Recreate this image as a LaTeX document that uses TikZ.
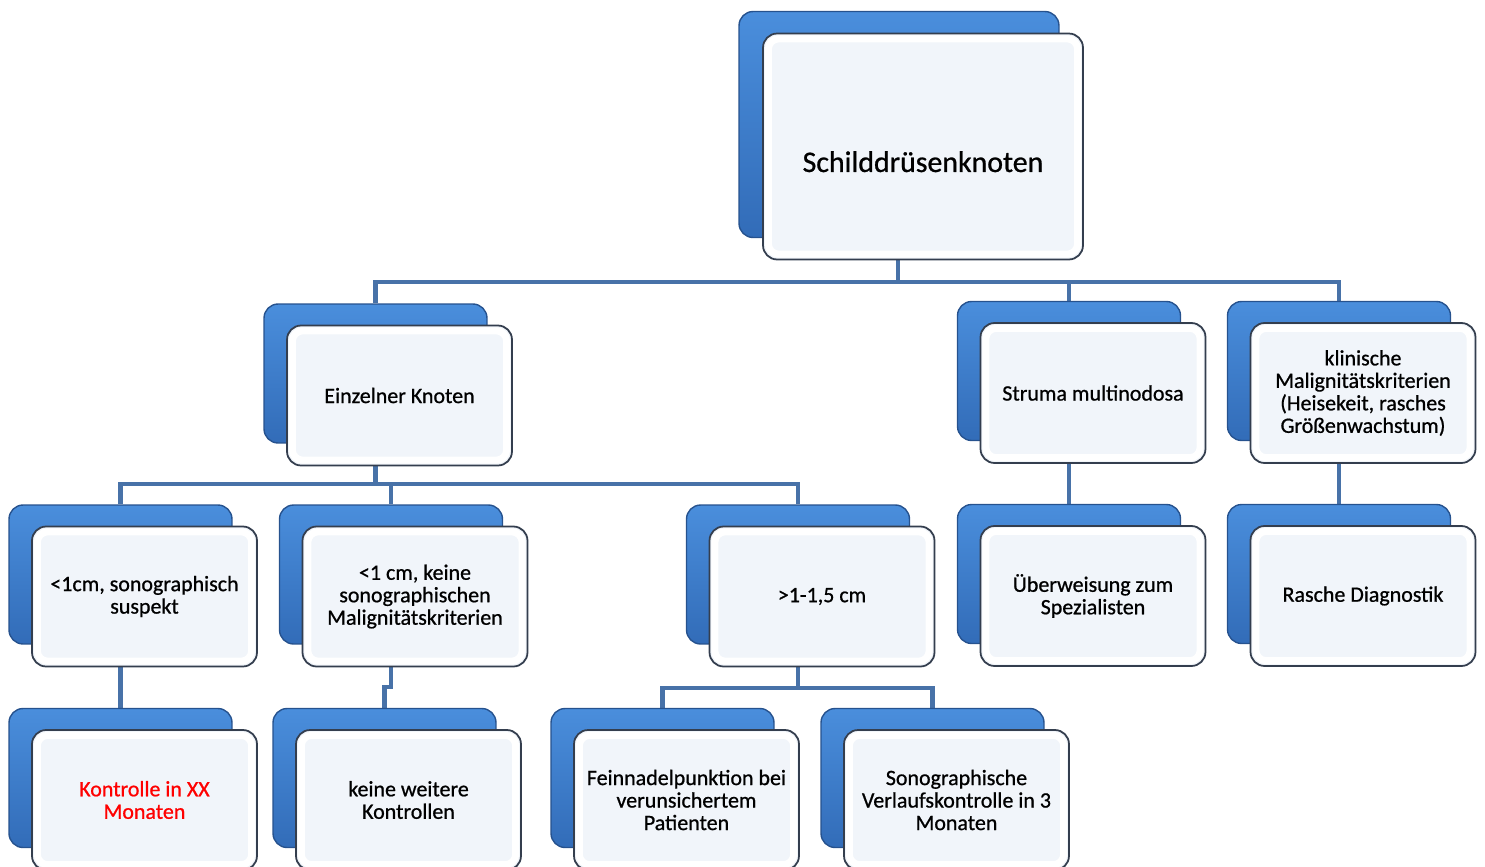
\documentclass[tikz,border=0pt]{standalone}
\usepackage{fontspec}
\setmainfont{Carlito}[FakeBold=0.8]
\usetikzlibrary{backgrounds}
\definecolor{linienblau}{RGB}{72,114,168}
\definecolor{kastenblau}{RGB}{50,108,184}
\definecolor{hellblau}{RGB}{74,142,220}
\definecolor{randblau}{RGB}{38,82,142}
\definecolor{kastenweiss}{RGB}{241,245,250}
\definecolor{rahmen}{RGB}{52,62,78}
\tikzset{
  hinten/.style={rounded corners=8pt, draw=randblau, line width=0.8pt,
    top color=hellblau, bottom color=kastenblau,
    minimum width=4.46cm, minimum height=2.78cm, inner sep=0pt},
  vorne/.style={rounded corners=8pt, draw=rahmen, line width=1pt, fill=kastenweiss,
    minimum width=4.5cm, minimum height=2.8cm, inner sep=0pt, align=center,
    font=\fontsize{12.5}{12.8}\selectfont,
    path picture={\draw[white, line width=4pt, rounded corners=6pt]
      ([shift={(3pt,3pt)}]path picture bounding box.south west) rectangle
      ([shift={(-3pt,-3pt)}]path picture bounding box.north east);}},
  gross/.style={minimum width=6.4cm, minimum height=4.52cm, font=\fontsize{17}{20}\selectfont},
  verbinder/.style={draw=linienblau, line width=2.3pt},
}
% Kasten mit blauem Schatten dahinter: [Stil]{Name}{x}{y}{Text}
\newcommand{\doppelkasten}[5][]{%
  \node[hinten,#1] (#2-h) at (#3-24,#4-22) {};
  \node[vorne,#1] (#2) at (#3,#4) {#5};
}
\begin{document}
\begin{tikzpicture}[x=0.02cm,y=-0.02cm]
  \useasboundingbox (0,0) rectangle (1485,866);
  \clip (0,0) rectangle (1485,866);
  % oberste Ebene
  \doppelkasten[gross]{root}{923}{146.5}{\raisebox{-14.5pt}[0pt][0pt]{Schilddrüsenknoten}}
  % zweite Ebene
  \doppelkasten{einz}{399.5}{395.5}{Einzelner Knoten}
  \doppelkasten{struma}{1093}{393}{Struma multinodosa}
  \doppelkasten{klin}{1363}{393}{klinische\\Malignitätskriterien\\(Heisekeit, rasches\\Größenwachstum)}
  % dritte Ebene
  \doppelkasten{susp}{144.5}{596.5}{<1cm, sonographisch\\suspekt}
  \doppelkasten{keine}{415}{596.5}{<1 cm, keine\\sonographischen\\Malignitätskriterien}
  \doppelkasten{gr}{822}{596.5}{>1-1,5 cm}
  \doppelkasten{ueb}{1093}{596}{Überweisung zum\\Spezialisten}
  \doppelkasten{rasch}{1363}{596}{Rasche Diagnostik}
  % vierte Ebene
  \doppelkasten[text=red]{kontr}{144.5}{800}{Kontrolle in XX\\Monaten}
  \doppelkasten{keinek}{408.5}{800}{keine weitere\\Kontrollen}
  \doppelkasten{fnp}{686.5}{800}{Feinnadelpunktion bei\\verunsichertem\\Patienten}
  \doppelkasten{verl}{956.5}{800}{Sonographische\\Verlaufskontrolle in 3\\Monaten}
  % Verbindungen
  \begin{scope}[on background layer]
    \draw[verbinder] ([xshift=-5mm]root.south) -- ++(0,22) -| (einz-h.north);
    \draw[verbinder] ([xshift=-5mm]root.south) -- ++(0,22) -| (struma-h.north);
    \draw[verbinder] ([xshift=-5mm]root.south) -- ++(0,22) -| (klin-h.north);
    \foreach \ziel in {susp,keine,gr}
      \draw[verbinder] (einz-h.south) -- ++(0,40) -| (\ziel-h.north);
    \draw[verbinder] (susp-h.south) -- (kontr-h.north);
    \draw[verbinder] (keine-h.south) -- ++(0,42) -| (keinek-h.north);
    \draw[verbinder] (gr-h.south) -- ++(0,43) -| (fnp-h.north);
    \draw[verbinder] (gr-h.south) -- ++(0,43) -| (verl-h.north);
    \draw[verbinder] (struma-h.south) -- (ueb-h.north);
    \draw[verbinder] (klin-h.south) -- (rasch-h.north);
  \end{scope}
\end{tikzpicture}
\end{document}
